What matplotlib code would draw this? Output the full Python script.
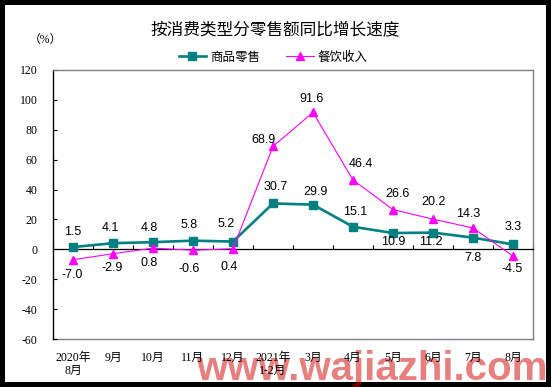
import matplotlib
matplotlib.use("Agg")
import matplotlib.pyplot as plt
import numpy as np
from matplotlib.patches import Rectangle
from matplotlib.lines import Line2D

categories = ['2020年\n8月', '9月', '10月', '11月', '12月', '2021年\n1-2月',
              '3月', '4月', '5月', '6月', '7月', '8月']
goods = [1.5, 4.1, 4.8, 5.8, 5.2, 30.7, 29.9, 15.1, 10.9, 11.2, 7.8, 3.3]
catering = [-7.0, -2.9, 0.8, -0.6, 0.4, 68.9, 91.6, 46.4, 26.6, 20.2, 14.3, -4.5]
series_names = ['商品零售', '餐饮收入']
yticks = [-60, -40, -20, 0, 20, 40, 60, 80, 100, 120]

# label offsets in pixels (dx, dy)
goods_off = [(0, 15), (-3, 15), (-4, 14), (-4, 16), (-7, 18), (3, 16), (2, 13),
             (2, 15), (0, -9), (-2, -9), (0, -20), (0, 17)]
cat_off = [(-1, -15), (-1, -14), (-4, -15), (-4, -19), (-4, -18), (-10, 6),
           (-1, 13), (8, 16), (5, 16), (0, 17), (-5, 14), (-1, -13)]

W, H = 551, 387
fig = plt.figure(figsize=(W / 100, H / 100), dpi=100, facecolor='black')
fig.patches.append(Rectangle((5 / W, 5 / H), 541 / W, 377 / H, transform=fig.transFigure,
                             facecolor='white', edgecolor='none', zorder=-5))

L, R, T, B = 53, 533, 70, 339
ax = fig.add_axes([L / W, 1 - B / H, (R - L) / W, (B - T) / H])
ax.set_zorder(1)
ax.set_facecolor('white')

x = np.arange(len(categories))
TEAL = '#008080'
MAG = '#FF00FF'
ax.plot(x, goods, color=TEAL, lw=1.9, marker='s', ms=5.4, zorder=3, clip_on=False)
ax.plot(x, catering, color=MAG, lw=0.8, marker='^', ms=5.5, zorder=4, clip_on=False)

num_font = dict(family='Liberation Sans', size=9, color='black')
for xi, v, (dx, dy) in zip(x, goods, goods_off):
    ax.annotate(f'{v:.1f}', (xi, v), xytext=(dx, dy), textcoords='offset pixels',
                ha='center', va='center', zorder=5, **num_font)
for xi, v, (dx, dy) in zip(x, catering, cat_off):
    ax.annotate(f'{v:.1f}', (xi, v), xytext=(dx, dy), textcoords='offset pixels',
                ha='center', va='center', zorder=5, **num_font)

ax.set_xlim(-0.5, len(categories) - 0.5)
ax.set_ylim(-60, 120)
ax.set_yticks(yticks)
ax.set_yticklabels([str(t) for t in yticks], family='Liberation Serif', fontsize=8.5)
ax.tick_params(axis='y', direction='in', length=3, width=0.8, pad=11, color='black')

# zero line with category-boundary ticks
ax.spines['bottom'].set_position(('data', 0))
ax.spines['bottom'].set_color('black')
ax.spines['bottom'].set_linewidth(0.9)
ax.set_xticks(x)
ax.set_xticklabels([])
ax.tick_params(axis='x', which='major', length=0)
ax.set_xticks(np.arange(-0.5, len(categories), 1), minor=True)
ax.tick_params(axis='x', which='minor', direction='in', length=3, width=0.8, color='black')

ax.spines['left'].set_color('black')
ax.spines['left'].set_linewidth(1.0)
for s in ['top', 'right']:
    ax.spines[s].set_color('#808080')
    ax.spines[s].set_linewidth(1.0)

sec = ax.secondary_xaxis(location=0.0)
sec.set_xticks(x)
sec.set_xticklabels(categories, family=['Liberation Serif', 'Noto Sans CJK SC'],
                    fontsize=8.5, linespacing=1.2)
sec.tick_params(axis='x', length=0, pad=9)
sec.spines['bottom'].set_color('#808080')
sec.spines['bottom'].set_linewidth(1.0)

fig.text(275 / W, 1 - 30 / H, '按消费类型分零售额同比增长速度', family='Noto Sans CJK SC',
         fontsize=12, ha='center', va='center')
fig.text(45 / W, 1 - 40 / H, '（%）', family=['Liberation Serif', 'Noto Sans CJK SC'],
         fontsize=8.5, ha='center', va='center')

handles = [Line2D([], [], color=TEAL, lw=1.9, marker='s', ms=5.4),
           Line2D([], [], color=MAG, lw=0.8, marker='^', ms=5.5)]
fig.legend(handles, series_names, loc='center', bbox_to_anchor=(273 / W, 1 - 57 / H),
           ncol=2, frameon=False, prop=dict(family='Noto Sans CJK SC', size=9),
           handlelength=2.2, handletextpad=0.3, columnspacing=2.1, borderpad=0)

wm = fig.text(372 / W, 1 - 369 / H, 'www.wajiazhi.com', family='Liberation Sans', weight='bold',
              fontsize=29, color='#D20000', alpha=0.5, ha='center', va='center')
wm.set_zorder(0.5)

fig.savefig('out.png', dpi=100, facecolor=fig.get_facecolor())
